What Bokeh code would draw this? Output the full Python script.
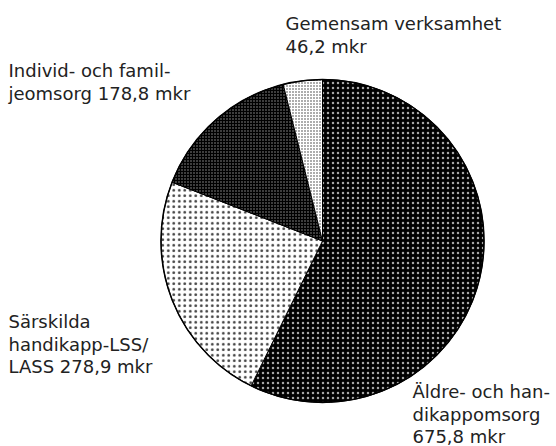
import numpy as np
from bokeh.plotting import figure
from bokeh.models import ColumnDataSource, Range1d
from bokeh.core.properties import value
from bokeh.embed import file_html
from bokeh.resources import INLINE

# ---- data ----
categories = ["Äldre- och handikappomsorg", "Särskilda handikapp-LSS/LASS",
              "Individ- och familjeomsorg", "Gemensam verksamhet"]
values_mkr = [675.8, 278.9, 178.8, 46.2]
label_texts = ["Äldre- och han-\ndikappomsorg\n{} mkr",
               "Särskilda\nhandikapp-LSS/\nLASS {} mkr",
               "Individ- och famil-\njeomsorg {} mkr",
               "Gemensam verksamhet\n{} mkr"]

# ---- styles / layout ----
fill_colors = ["black", "white", "black", "white"]
hatch_colors = ["white", "black", "white", "black"]
hatch_scales = [5.0, 5.5, 3.0, 3.0]
hatch_weights = [0.1, 0.1, 0.3, 0.3]
hatch_alphas = [0.65, 0.75, 0.6, 0.8]
label_pos = [(412, 391), (8, 321), (8, 70), (285, 23)]  # screen px, first baseline
line_gap = 22.5

W, H = 556, 446
cx_s, cy_s, r = 322, 240.5, 161.5

def sy(y):  # screen y -> data y
    return H - y

vals = np.array(values_mkr)
frac = vals / vals.sum()
cum = np.concatenate([[0], np.cumsum(frac)])
start = np.pi / 2 - 2 * np.pi * cum[:-1]
end = np.pi / 2 - 2 * np.pi * cum[1:]

src = ColumnDataSource(dict(
    start=start, end=end, fill=fill_colors, hcol=hatch_colors,
    hscale=hatch_scales, hweight=hatch_weights, halpha=hatch_alphas,
    cat=categories,
))

p = figure(width=W, height=H, output_backend="svg", toolbar_location=None,
           x_range=Range1d(0, W), y_range=Range1d(0, H),
           min_border=0, outline_line_color=None)
p.axis.visible = False
p.grid.visible = False
p.background_fill_color = "white"
p.border_fill_color = "white"

p.wedge(x=cx_s, y=sy(cy_s), radius=r, start_angle="start", end_angle="end",
        direction="clock", source=src, fill_color="fill", line_color="black",
        line_width=1, hatch_pattern="dot", hatch_color="hcol",
        hatch_scale="hscale", hatch_weight="hweight", hatch_alpha="halpha")
# outer outline
p.circle(x=cx_s, y=sy(cy_s), radius=r, fill_color=None, line_color="black",
         line_width=1.5)

xs, ys, txt = [], [], []
for lt, v, (lx, ly) in zip(label_texts, values_mkr, label_pos):
    s = lt.format(f"{v:.1f}".replace(".", ","))
    for i, line in enumerate(s.split("\n")):
        xs.append(lx)
        ys.append(sy(ly + i * line_gap))
        txt.append(line)

p.text(x=xs, y=ys, text=txt, text_font=value("DejaVu Sans"),
       text_font_size="18px", text_color="#222222", text_align="left",
       text_baseline="alphabetic")

open("out.html", "w").write(file_html(p, INLINE))
